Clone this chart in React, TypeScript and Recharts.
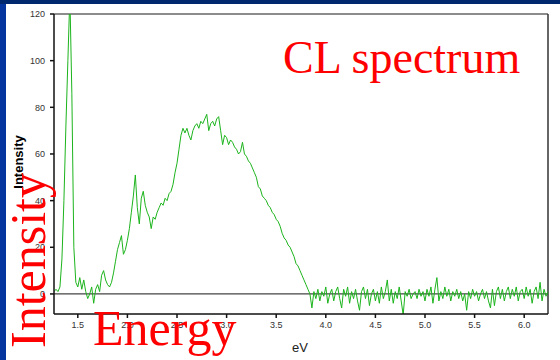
import React from 'react';
import { LineChart, Line, XAxis, YAxis, ReferenceLine } from 'recharts';

// CL spectrum, sampled every 0.02 eV
const STEP = 0.02;

// 1.26 - 1.98 eV : sharp near-IR peak and the rise
const nearIrStart = 1.26;
const nearIrCounts = [
  1, 2, 1, 3, 15, 40, 72, 100, 128, 86, 20, 5, 3, 7, 2, 6, 1, -2, 0, 3,
  -4, 2, 4, 1, 8, 10, 6, 4, 3, 5, 9, 14, 19, 22, 25, 17, 19,
];

// 2.00 - 2.98 eV : shoulder and main band
const mainBandStart = 2.0;
const mainBandCounts = [
  23, 28, 35, 42, 51, 37, 30, 41, 44, 38, 35, 33, 28, 33, 32, 35, 37, 39, 38, 41,
  40, 43, 44, 47, 52, 56, 62, 68, 71, 69, 71, 68, 66, 70, 72, 73, 71, 74, 73, 75,
  77, 70, 73, 74, 72, 75, 76, 70, 64, 68,
];

// 3.00 - 3.90 eV : falling edge
const fallStart = 3.0;
const fallCounts = [
  67, 64, 66, 65, 63, 62, 60, 61, 65, 60, 59, 57, 56, 54, 52, 50, 46, 45, 42, 41,
  40, 38, 37, 35, 34, 32, 31, 29, 26, 24, 23, 21, 20, 18, 16, 13, 12, 10, 8, 6,
  4, 2, 0, -6, 1, -2,
];

// 3.92 - 6.24 eV : background noise
const tailStart = 3.92;
const tailCounts = [
  2, -3, 1, -1, 3, -4, 0, 2, -3, 1, 3, -2, -6, 2, -1, 3, -4, 1, -2, 2,
  -3, -7, 1, 3, -2, 2, -5, 0, 2, -3, 1, -4, 3, -2, 1, 6, -3, 2, -4, 1,
  -2, 3, -3, -9, 1, -1, 2, -2, 0, 1, -2, 2, -1, 1, -3, 2, -1, 3, -4, 2,
  7, -3, 1, -2, 3, -1, 2, -3, 1, -1, 2, -2, 1, -3, 0, -7, 1, -2, 2, -1,
  1, -3, 0, 2, -2, 1, -3, -6, 2, -5, 1, 3, -2, 2, -3, 1, 3, -2, 2, -1,
  3, -3, 1, 2, -2, 3, -1, 2, -4, 1, 3, -2, 5, -3, 2, -1, 1,
];

const xTicks = [1.5, 2.0, 2.5, 3.0, 3.5, 4.0, 4.5, 5.0, 5.5, 6.0];
const yTicks = [0, 20, 40, 60, 80, 100, 120];

const toPoints = (start: number, counts: number[]) =>
  counts.map((c, i) => ({ ev: +(start + i * STEP).toFixed(2), counts: c }));

const spectrum = [
  ...toPoints(nearIrStart, nearIrCounts),
  ...toPoints(mainBandStart, mainBandCounts),
  ...toPoints(fallStart, fallCounts),
  ...toPoints(tailStart, tailCounts),
];

const tickStyle = { fontSize: 9, fill: '#333', fontFamily: 'Liberation Sans, Arial, sans-serif' };

export default function App() {
  return (
    <div style={{ position: 'absolute', left: 0, top: 0, width: 560, height: 360, background: '#0536a0', overflow: 'hidden' }}>
      <div style={{ position: 'absolute', left: 0, top: 0, width: 560, height: 4, background: '#00286e' }} />
      <div style={{ position: 'absolute', left: 6, top: 4, width: 554, height: 356, background: '#fff' }} />
      <div style={{ position: 'absolute', left: 0, top: 0 }}>
        <LineChart width={560} height={360} data={spectrum} margin={{ top: 14, right: 12, left: 14, bottom: 16 }}>
          <XAxis
            type="number"
            dataKey="ev"
            domain={[1.26, 6.24]}
            ticks={xTicks}
            tickFormatter={(v: number) => v.toFixed(1)}
            allowDataOverflow
            height={30}
            tick={tickStyle}
            tickSize={4}
            tickMargin={4}
            stroke="#111"
            strokeWidth={1.5}
          />
          <YAxis
            type="number"
            domain={[-8.6, 120]}
            ticks={yTicks}
            allowDataOverflow
            width={40}
            tick={tickStyle}
            tickSize={4}
            tickMargin={5}
            stroke="#111"
            strokeWidth={1.5}
          />
          <ReferenceLine y={120} stroke="#666" strokeWidth={1.5} />
          <ReferenceLine x={6.24} stroke="#333" strokeWidth={1.5} />
          <ReferenceLine y={0} stroke="#444" strokeWidth={1.2} />
          <Line
            type="linear"
            dataKey="counts"
            stroke="#1cb41c"
            strokeWidth={1}
            dot={false}
            isAnimationActive={false}
          />
        </LineChart>
      </div>
      <svg width={560} height={360} style={{ position: 'absolute', left: 0, top: 0, pointerEvents: 'none' }}>
        <text
          transform="translate(23,162) rotate(-90)"
          textAnchor="middle"
          fontFamily="Liberation Sans, Arial, sans-serif"
          fontWeight="bold"
          fontSize={13}
          fill="#000"
        >
          Intensity
        </text>
        <text x={292} y={352} fontFamily="Liberation Sans, Arial, sans-serif" fontSize={13} fill="#222">
          eV
        </text>
        <text x={283} y={73} fontFamily="Liberation Serif, Times New Roman, serif" fontSize={46} fill="#ff0000">
          CL spectrum
        </text>
        <text x={93} y={345} fontFamily="Liberation Serif, Times New Roman, serif" fontSize={50} fill="#ff0000">
          Energy
        </text>
        <text transform="translate(45,348) rotate(-90)" fontFamily="Liberation Serif, Times New Roman, serif" fontSize={50} fill="#ff0000">
          Intensity
        </text>
      </svg>
    </div>
  );
}
